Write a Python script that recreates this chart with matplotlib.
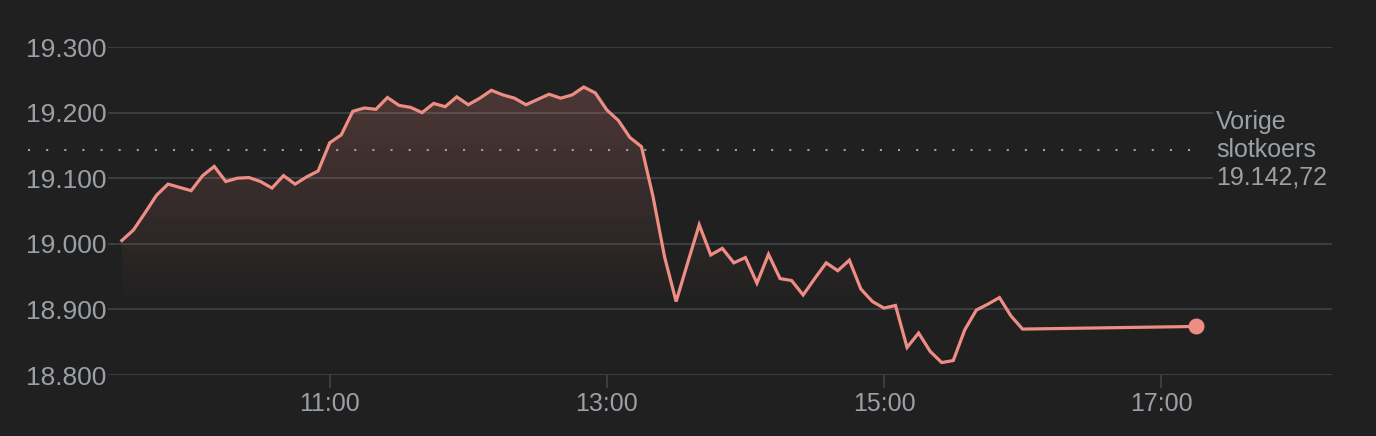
import matplotlib
matplotlib.use("Agg")
import matplotlib.pyplot as plt
import matplotlib.dates as mdates
import numpy as np
import pandas as pd

# koers per 5 minuten, 09:30 - 16:00, plus de laatste notering om 17:15
koers = [
    19005, 19021, 19047, 19074, 19091, 19086, 19081, 19104, 19118, 19095,
    19100, 19101, 19095, 19085, 19104, 19091, 19102, 19111, 19154, 19166,
    19202, 19207, 19205, 19223, 19211, 19208, 19200, 19214, 19209, 19224,
    19212, 19222, 19234, 19227, 19222, 19212, 19220, 19228, 19222, 19227,
    19239, 19230, 19204, 19188, 19162, 19148, 19072, 18980, 18912, 18971,
    19029, 18983, 18993, 18971, 18979, 18940, 18984, 18947, 18944, 18922,
    18947, 18971, 18959, 18975, 18931, 18912, 18902, 18906, 18842, 18864,
    18836, 18819, 18822, 18869, 18899, 18908, 18918, 18890, 18870,
]
laatste_tijd = "2024-01-05 17:15"
laatste_koers = 18874
vorige_slot = 19142.72

y_ticks = [18800, 18900, 19000, 19100, 19200, 19300]
y_labels = ["18.800", "18.900", "19.000", "19.100", "19.200", "19.300"]
x_ticks = ["11:00", "13:00", "15:00", "17:00"]

tijden = list(pd.date_range("2024-01-05 09:30", periods=len(koers), freq="5min"))
tijden.append(pd.Timestamp(laatste_tijd))
waarden = koers + [laatste_koers]

BG = "#202020"
GRID = "#3c3f42"
TXT = "#9aa0a6"
LIJN = "#ee8d83"

W = 1376
fig = plt.figure(figsize=(13.76, 4.36), dpi=100, facecolor=BG)
ax = fig.add_axes([108 / W, 61 / 436, (1332 - 108) / W, 328 / 436])
ax.set_facecolor(BG)

x = mdates.date2num(tijden)
y = np.array(waarden, dtype=float)

# gradient fill under the line
basis = 18900
poly = ax.fill_between(x[:len(koers)], y[:len(koers)], basis, color="none", lw=0)
top = y.max()
n = 256
alpha = np.linspace(0.22, 0.0, n)[:, None]
rgb = matplotlib.colors.to_rgb(LIJN)
img = np.zeros((n, 2, 4))
img[..., 0], img[..., 1], img[..., 2] = rgb
img[..., 3] = alpha
im = ax.imshow(img, aspect="auto", extent=[x[0], x[len(koers) - 1], basis, top],
               origin="upper", zorder=1, interpolation="bilinear")
im.set_clip_path(poly.get_paths()[0], transform=ax.transData)

ax.plot(x, y, color=LIJN, lw=2.3, zorder=3, solid_joinstyle="miter")
ax.plot(x[-1], y[-1], "o", color=LIJN, ms=10.5, zorder=4)

# dotted line for previous close, runs into the label area on the left
ax.axhline(vorige_slot, xmin=(28 - 108) / 1224, xmax=(1205 - 108) / 1224, color=TXT,
           lw=1.5, linestyle=(0, (1, 7.7)), dash_capstyle="butt", zorder=2, clip_on=False)

ax.set_ylim(18800, 19300)
ax.set_xlim(mdates.date2num(pd.Timestamp("2024-01-05 09:24")),
            mdates.date2num(pd.Timestamp("2024-01-05 18:14")))
ax.set_yticks(y_ticks)
ax.set_yticklabels(y_labels)
ax.set_xticks([mdates.date2num(pd.Timestamp("2024-01-05 " + t)) for t in x_ticks])
ax.set_xticklabels(x_ticks)
ax.grid(axis="y", color=GRID, lw=1.4, zorder=0)
ax.set_axisbelow(True)
for s in ax.spines.values():
    s.set_visible(False)
ax.tick_params(axis="y", length=0, pad=1, labelsize=19, labelcolor=TXT)
ax.tick_params(axis="x", length=9.5, width=1.4, color=GRID, pad=3,
               labelsize=18, labelcolor=TXT)
for lab in ax.get_xticklabels() + ax.get_yticklabels():
    lab.set_fontfamily("Liberation Sans")

# background patch that cuts the gridlines behind the label
ax.add_patch(plt.Rectangle(((1213 - 108) / 1224, (375 - 192) / 328), 0.2, 90 / 328,
                           transform=ax.transAxes, fc=BG, ec="none", zorder=4,
                           clip_on=False))
ax.text((1216 - 108) / 1224, vorige_slot, "Vorige\nslotkoers\n19.142,72",
        transform=ax.get_yaxis_transform(), ha="left", va="center", fontsize=18,
        color=TXT, family="Liberation Sans", linespacing=1.2, zorder=5)

fig.savefig("out.png", dpi=100, facecolor=BG)
